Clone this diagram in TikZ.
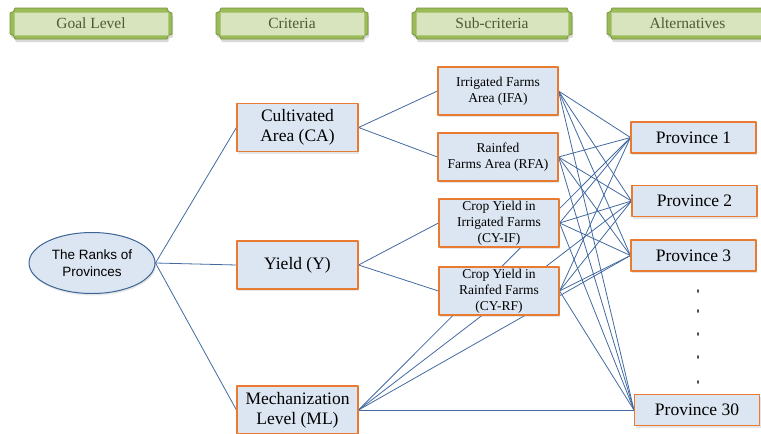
\documentclass[tikz,border=0pt]{standalone}
\usepackage{fontspec}
\setmainfont{Liberation Serif}
\newfontfamily\arialfont{Liberation Sans}
\usetikzlibrary{shapes.geometric,shadows,backgrounds}
\definecolor{boxfill}{RGB}{220,230,242}
\definecolor{boxline}{RGB}{232,122,50}
\definecolor{linkblue}{RGB}{66,106,160}
\definecolor{ovalline}{RGB}{60,100,150}
\definecolor{plaqueout}{RGB}{155,187,89}
\definecolor{plaqueedge}{RGB}{118,146,60}
\definecolor{plaquein}{RGB}{215,228,189}
\definecolor{headtext}{RGB}{78,90,56}
\begin{document}
\begin{tikzpicture}[x=1pt,y=-1pt,line join=round,
softshadow/.style={drop shadow={shadow xshift=1pt,shadow yshift=-2pt,opacity=.2}},
crit/.style={draw=boxline,fill=boxfill,line width=1.1pt,softshadow,align=center,inner sep=0pt,
  minimum width=121pt,minimum height=48pt,font=\fontsize{17.5}{20}\selectfont},
sub/.style={crit,minimum width=120pt,font=\fontsize{13.5}{16}\selectfont},
alt/.style={crit,minimum width=125pt,minimum height=31pt},
link/.style={linkblue,line width=.8pt},
headtxt/.style={text=headtext,font=\fontsize{15.5}{18}\selectfont,inner sep=0pt}]
\useasboundingbox (0,0) rectangle (761,434);
% header plaques
\foreach \xa/\xb/\lbl/\nm in {10/172/Goal Level/hgoal, 216/368/Criteria/hcrit,
  412/572/Sub-criteria/hsub, 607/768/Alternatives/halt}{
\path[fill=plaqueout,draw=plaqueedge,line width=.8pt,
  drop shadow={shadow xshift=1pt,shadow yshift=-3pt,opacity=.3}]
  (\xa+5,8) -- (\xb-5,8) arc[start angle=180,end angle=90,radius=5]
  -- (\xb,34) arc[start angle=270,end angle=180,radius=5]
  -- (\xa+5,39) arc[start angle=360,end angle=270,radius=5]
  -- (\xa,13) arc[start angle=90,end angle=0,radius=5] -- cycle;
\draw[fill=plaquein,draw=plaqueout!80!white,line width=.6pt] (\xa+4,12) rectangle (\xb-4,35);
\node[headtxt] (\nm) at ({(\xa+\xb)/2},23.5) {\lbl};
}
% goal
\node[ellipse,draw=ovalline,fill=boxfill,line width=1pt,softshadow,inner sep=0pt,
  minimum width=126pt,minimum height=61pt,align=center,
  font=\arialfont\fontsize{13.5}{16.5}\selectfont] (goal) at (92,263) {The Ranks of\\Provinces};
% criteria
\node[crit] (ca) at (297.5,127.5) {Cultivated\\Area (CA)};
\node[crit] (yld) at (297.5,265) {Yield (Y)};
\node[crit] (ml) at (297.5,410) {Mechanization\\Level (ML)};
% sub-criteria
\node[sub] (ifa) at (498,91) {Irrigated Farms\\Area (IFA)};
\node[sub] (rfa) at (498,157) {Rainfed\\Farms Area (RFA)};
\node[sub] (cyif) at (499,223) {Crop Yield in\\Irrigated Farms\\(CY-IF)};
\node[sub] (cyrf) at (499,291) {Crop Yield in\\Rainfed Farms\\(CY-RF)};
% alternatives
\node[alt] (p1) at (693.5,137.5) {Province 1};
\node[alt] (p2) at (694.5,201) {Province 2};
\node[alt] (p3) at (693.5,255.5) {Province 3};
\node[alt] (p30) at (697,410) {Province 30};
\foreach \yy in {291,311,334,357,382}
\fill[black!85] (698,\yy) ellipse[x radius=.8,y radius=2];
% links
\begin{scope}[on background layer]
\foreach \c in {ca,yld,ml}
\draw[link] (goal.east) -- (\c.west);
\draw[link] (ca.east) -- (ifa.west) (ca.east) -- (rfa.west)
  (yld.east) -- (cyif.west) (yld.east) -- (cyrf.west);
\foreach \s in {ifa,rfa,cyif,cyrf,ml}
\foreach \p in {p1,p2,p3,p30}
\draw[link] (\s.east) -- (\p.west);
\end{scope}
\end{tikzpicture}
\end{document}
